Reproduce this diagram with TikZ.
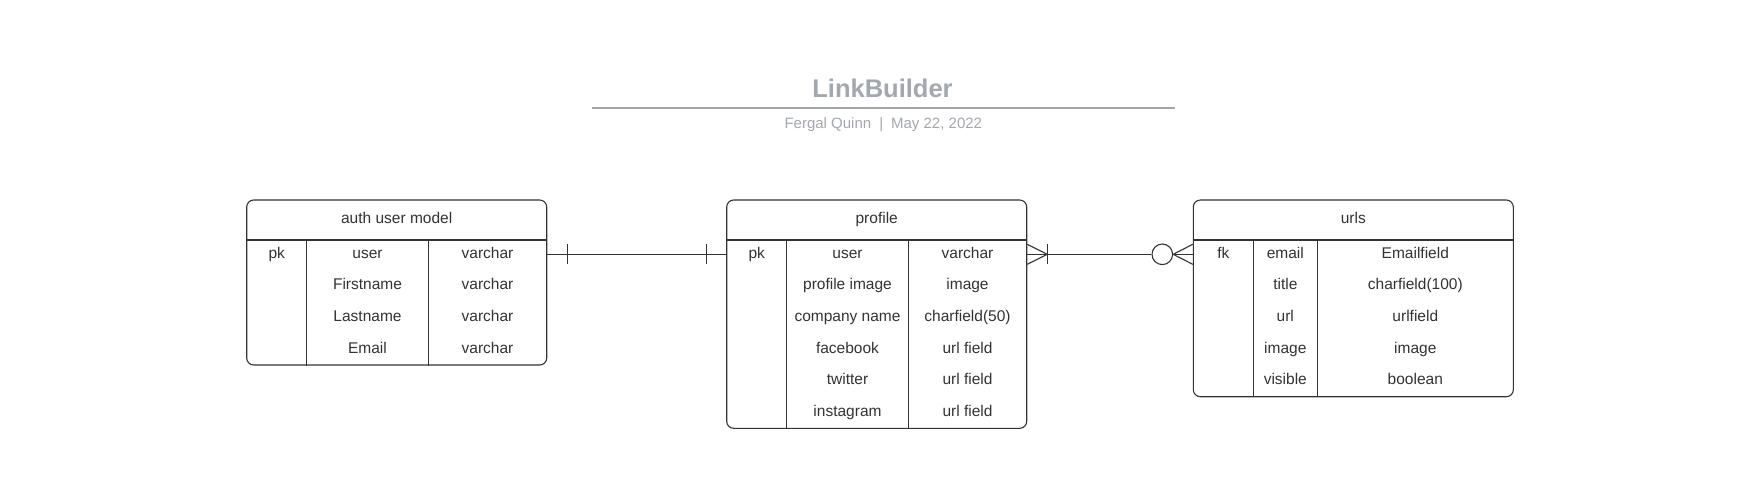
\documentclass[tikz,border=0pt]{standalone}
\usepackage{fontspec}
\setmainfont{Liberation Sans}
\definecolor{ink}{HTML}{333333}
\definecolor{titlegray}{HTML}{A3A8AF}
\definecolor{rulegray}{HTML}{A2A5AA}
\begin{document}
\begin{tikzpicture}[x=1pt,y=-1pt,
  tbox/.style={draw=ink, line width=1.1pt, rounded corners=7pt, inner sep=0pt, fill=none},
  tline/.style={draw=ink, line width=1.1pt},
  conn/.style={draw=ink, line width=1.1pt},
  cell/.style={font=\fontsize{15.5}{18}\selectfont, text=ink, anchor=base, inner sep=0pt},
]
\useasboundingbox (0,0) rectangle (1744,480);
\fill[white] (0,0) rectangle (1744,480);

% title block
\node[anchor=base, inner sep=0pt, text=titlegray, font=\bfseries\fontsize{25.5}{30}\selectfont] (title) at (882.5,97.3) {LinkBuilder};
\coordinate (ruleL) at (592,107.7);
\coordinate (ruleR) at (1175,107.7);
\draw[rulegray, line width=2pt] (ruleL) -- (ruleR);
\node[anchor=base, inner sep=0pt, text=titlegray, font=\fontsize{15}{18}\selectfont] (subtitle) at (883.3,128.3) {Fergal Quinn\hspace{8pt}|\hspace{8pt}May 22, 2022};

% row reference lines
\coordinate (hdr) at (0,240);
\coordinate (rowA) at (0,254.3);

% ---------- auth user model ----------
\node[tbox, minimum width=300pt, minimum height=165pt] (auth) at (396.7,282.5) {};
\draw[tline] (auth.west |- hdr) -- (auth.east |- hdr);
\coordinate (ac1) at (306.7,0);
\coordinate (ac2) at (428.3,0);
\draw[tline] (ac1 |- hdr) -- (ac1 |- auth.south);
\draw[tline] (ac2 |- hdr) -- (ac2 |- auth.south);
\node[cell] (authT) at (396.7,223.5) {auth user model};
\node[cell] (a11) at (276.7,258.3) {pk};
\node[cell] (a12) at (367.5,258.3) {user};
\node[cell] (a13) at (487.5,258.3) {varchar};
\node[cell] (a22) at (367.5,289.9) {Firstname};
\node[cell] (a23) at (487.5,289.9) {varchar};
\node[cell] (a32) at (367.5,321.5) {Lastname};
\node[cell] (a33) at (487.5,321.5) {varchar};
\node[cell] (a42) at (367.5,353.1) {Email};
\node[cell] (a43) at (487.5,353.1) {varchar};

% ---------- profile ----------
\node[tbox, minimum width=300pt, minimum height=228.3pt] (profile) at (876.7,314.15) {};
\draw[tline] (profile.west |- hdr) -- (profile.east |- hdr);
\coordinate (pc1) at (786.7,0);
\coordinate (pc2) at (908.3,0);
\draw[tline] (pc1 |- hdr) -- (pc1 |- profile.south);
\draw[tline] (pc2 |- hdr) -- (pc2 |- profile.south);
\node[cell] (profT) at (876.7,223.5) {profile};
\node[cell] (p11) at (756.7,258.3) {pk};
\node[cell] (p12) at (847.5,258.3) {user};
\node[cell] (p13) at (967.5,258.3) {varchar};
\node[cell] (p22) at (847.5,289.9) {profile image};
\node[cell] (p23) at (967.5,289.9) {image};
\node[cell] (p32) at (847.5,321.5) {company name};
\node[cell] (p33) at (967.5,321.5) {charfield(50)};
\node[cell] (p42) at (847.5,353.1) {facebook};
\node[cell] (p43) at (967.5,353.1) {url field};
\node[cell] (p52) at (847.5,384.7) {twitter};
\node[cell] (p53) at (967.5,384.7) {url field};
\node[cell] (p62) at (847.5,416.3) {instagram};
\node[cell] (p63) at (967.5,416.3) {url field};

% ---------- urls ----------
\node[tbox, minimum width=320pt, minimum height=196.7pt] (urls) at (1353.3,298.35) {};
\draw[tline] (urls.west |- hdr) -- (urls.east |- hdr);
\coordinate (uc1) at (1253.3,0);
\coordinate (uc2) at (1317.3,0);
\draw[tline] (uc1 |- hdr) -- (uc1 |- urls.south);
\draw[tline] (uc2 |- hdr) -- (uc2 |- urls.south);
\node[cell] (urlT) at (1353.3,223.5) {urls};
\node[cell] (u11) at (1223.3,258.3) {fk};
\node[cell] (u12) at (1285.3,258.3) {email};
\node[cell] (u13) at (1415.3,258.3) {Emailfield};
\node[cell] (u22) at (1285.3,289.9) {title};
\node[cell] (u23) at (1415.3,289.9) {charfield(100)};
\node[cell] (u32) at (1285.3,321.5) {url};
\node[cell] (u33) at (1415.3,321.5) {urlfield};
\node[cell] (u42) at (1285.3,353.1) {image};
\node[cell] (u43) at (1415.3,353.1) {image};
\node[cell] (u52) at (1285.3,384.7) {visible};
\node[cell] (u53) at (1415.3,384.7) {boolean};

% ---------- connector auth -- profile (one and only one) ----------
\draw[conn] (auth.east |- rowA) -- (profile.west |- rowA);
\draw[conn] ([xshift=20.6pt]auth.east |- rowA) ++(0,-10) -- ++(0,20);
\draw[conn] ([xshift=-20pt]profile.west |- rowA) ++(0,-10) -- ++(0,20);

% ---------- connector profile -- urls (one-or-many to zero-or-many) ----------
\node[circle, draw=ink, line width=1.1pt, minimum size=20.6pt, inner sep=0pt] (opt) at (1162.3,254.3) {};
\draw[conn] (profile.east |- rowA) -- (opt.west);
\draw[conn] (profile.east |- rowA) ++(0,-10) -- ++(20,10) -- ++(-20,10);
\draw[conn] ([xshift=20pt]profile.east |- rowA) ++(0,-10) -- ++(0,20);
\draw[conn] (opt.east) -- (urls.west |- rowA);
\draw[conn] ([yshift=10pt]urls.west |- rowA) -- (opt.east) -- ([yshift=-10pt]urls.west |- rowA);
\end{tikzpicture}
\end{document}
